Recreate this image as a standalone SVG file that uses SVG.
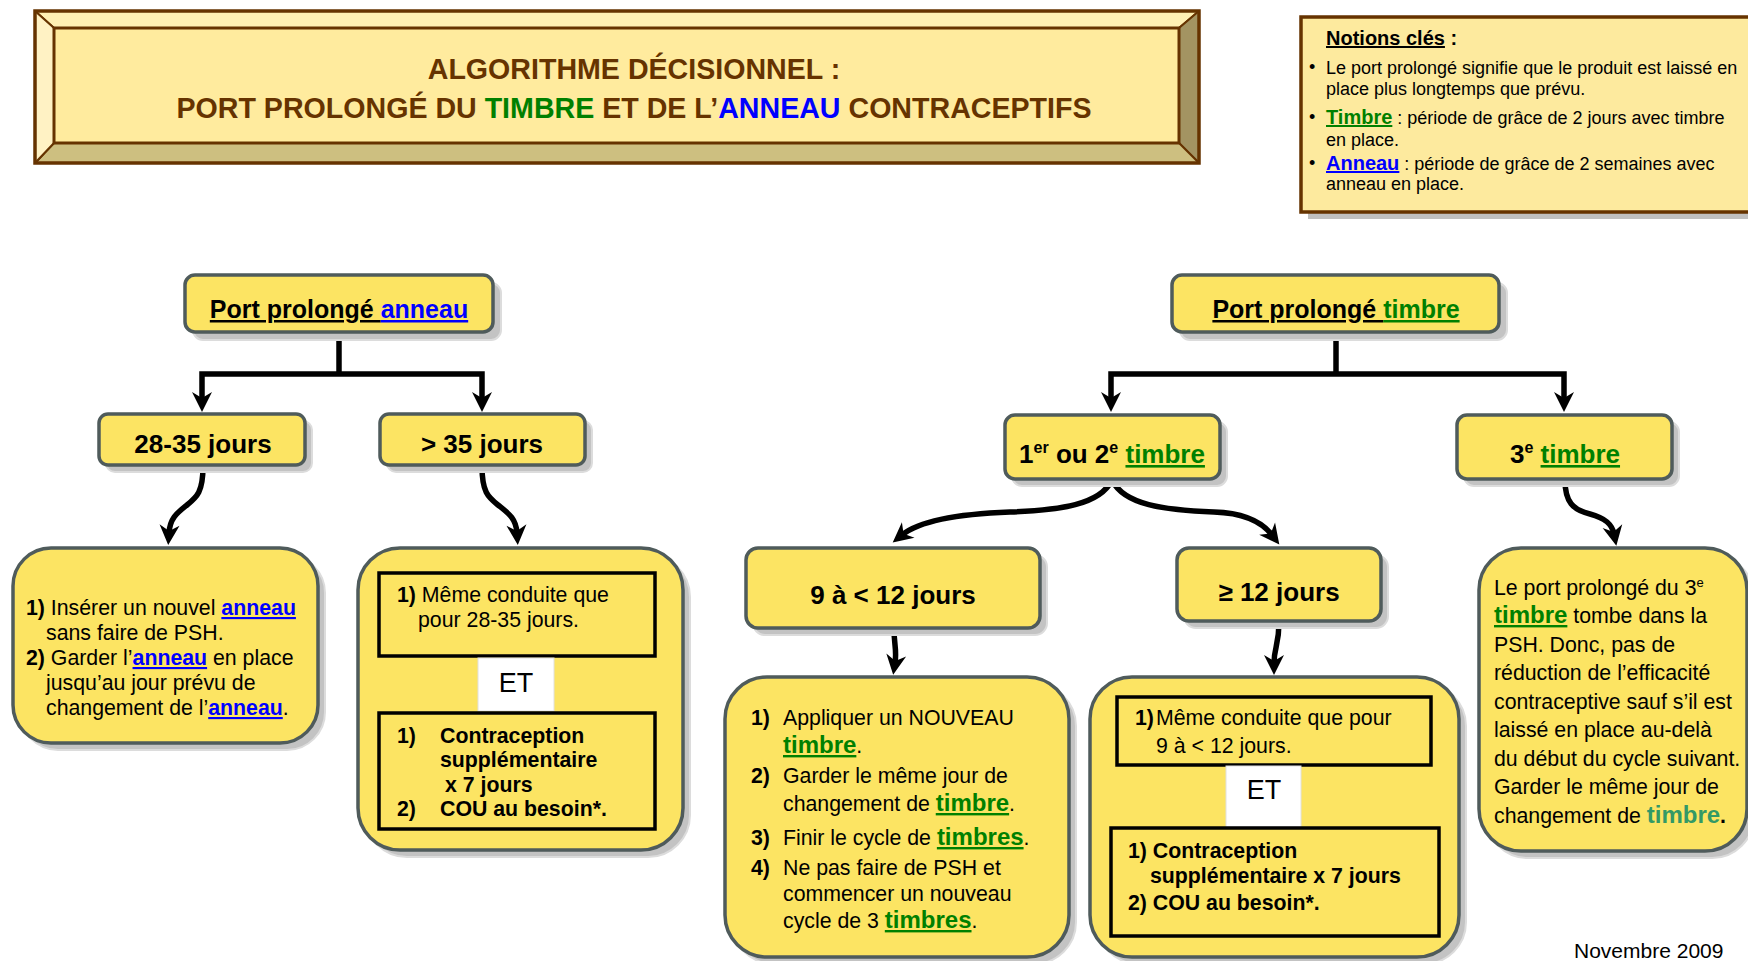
<svg xmlns="http://www.w3.org/2000/svg" width="1748" height="961" viewBox="0 0 1748 961">
<style>
text{font-family:"Liberation Sans",Arial,Helvetica,sans-serif;fill:#000}
.box{fill:#FCE463;stroke:#4F5B5B;stroke-width:3.5}
.sh{fill:#C3C3C3;stroke:#DCDCDC;stroke-width:2}
.inner{fill:none;stroke:#000;stroke-width:3.5}
.et{fill:#FFFFFF;stroke:#E0E0E0;stroke-width:1}
.h{font-size:26px;font-weight:bold;text-anchor:middle}
.h25{font-size:25px;font-weight:bold;text-anchor:middle}
.body{font-size:21.3px}
.bd{font-weight:bold}
.u{text-decoration:underline}
.g{fill:#008000;font-weight:bold;text-decoration:underline}
.bl{fill:#0000FF;font-weight:bold;text-decoration:underline}
.big{font-size:24px}
.title{font-size:28.6px;font-weight:bold;fill:#663300;text-anchor:middle}
.note{font-size:18px}
.conn path{fill:none;stroke:#000;stroke-width:5.5;stroke-linejoin:miter}
.conn path.a{marker-end:url(#ah)}
.bev{stroke:#663300;stroke-width:2;stroke-linejoin:round}
</style>
<defs>
<marker id="ah" markerUnits="userSpaceOnUse" viewBox="-2 -12 26 24" markerWidth="26" markerHeight="24" refX="8" refY="0" orient="auto">
<path d="M0,-10 L20,0 L0,10 L6,0 Z" fill="#000"/>
</marker>
</defs>
<rect width="1748" height="961" fill="#FFFFFF"/>

<g id="title">
<polygon class="bev" points="35,11 1199,11 1179,28 54,28" fill="#FFF0B3"/>
<polygon class="bev" points="1199,11 1199,163 1179,143 1179,28" fill="#A39462"/>
<polygon class="bev" points="35,163 1199,163 1179,143 54,143" fill="#CDBF80"/>
<polygon class="bev" points="35,11 35,163 54,143 54,28" fill="#FFF2C4"/>
<rect x="54" y="28" width="1125" height="115" fill="#FFEB9E" stroke="#663300" stroke-width="3"/>
<rect x="35" y="11" width="1164" height="152" fill="none" stroke="#663300" stroke-width="3.5"/>
<text class="title" x="634" y="79">ALGORITHME DÉCISIONNEL :</text>
<text class="title" x="634" y="118">PORT PROLONGÉ DU <tspan fill="#008000">TIMBRE</tspan> ET DE L’<tspan fill="#0000FF">ANNEAU</tspan> CONTRACEPTIFS</text>
</g>

<g id="notions">
<rect x="1308" y="24" width="460" height="195" fill="#C0C0C0"/>
<rect x="1301" y="17" width="460" height="195" fill="#FDEA9E" stroke="#663300" stroke-width="3.5"/>
<text x="1326" y="45" font-size="20" font-weight="bold"><tspan class="u">Notions clés</tspan> :</text>
<text class="note" x="1309" y="73">•</text>
<text class="note" x="1326" y="74">Le port prolongé signifie que le produit est laissé en</text>
<text class="note" x="1326" y="95">place plus longtemps que prévu.</text>
<text class="note" x="1309" y="123">•</text>
<text class="note" x="1326" y="124"><tspan class="g" font-size="20">Timbre</tspan> : période de grâce de 2 jours avec timbre</text>
<text class="note" x="1326" y="146">en place.</text>
<text class="note" x="1309" y="169">•</text>
<text class="note" x="1326" y="170"><tspan class="bl" font-size="20">Anneau</tspan> : période de grâce de 2 semaines avec</text>
<text class="note" x="1326" y="190">anneau en place.</text>
</g>

<g class="conn" id="connectors">
<path d="M339,332 V374"/>
<path class="a" d="M339,374 H202 V400"/>
<path class="a" d="M339,374 H482 V400"/>
<path d="M1336,332 V374"/>
<path class="a" d="M1336,374 H1111 V400"/>
<path class="a" d="M1336,374 H1564 V400"/>
<path class="a" d="M203,466 C203,492 197,497 187,505 C177,513 170,518 169,533"/>
<path class="a" d="M482,466 C482,492 488,497 498,505 C508,513 516,518 517,533"/>
<path class="a" d="M1112,480 C1100,505 1060,510 1010,512 C955,514 918,522 902,535"/>
<path class="a" d="M1112,480 C1124,505 1164,510 1214,512 C1245,513 1262,522 1272,535"/>
<path class="a" d="M1565,480 C1565,502 1573,510 1590,514 C1605,518 1612,524 1614,534"/>
<path class="a" d="M894,629 C894,645 897,650 895,663"/>
<path class="a" d="M1279,622 C1279,645 1274,648 1274,663"/>
</g>

<g id="n-anneau">
<rect class="sh" x="193" y="283" width="308" height="57" rx="10"/>
<rect class="box" x="185" y="275" width="308" height="57" rx="10"/>
<text class="h25" x="339" y="318"><tspan class="u">Port prolongé </tspan><tspan class="bl">anneau</tspan></text>
</g>

<g id="n-28-35">
<rect class="sh" x="106" y="421" width="206" height="51" rx="9"/>
<rect class="box" x="99" y="414" width="206" height="51" rx="9"/>
<text class="h" x="203" y="453">28-35 jours</text>
</g>

<g id="n-35">
<rect class="sh" x="387" y="421" width="205" height="51" rx="9"/>
<rect class="box" x="380" y="414" width="205" height="51" rx="9"/>
<text class="h" x="482" y="453">&gt; 35 jours</text>
</g>

<g id="n-r2835">
<rect class="sh" x="20" y="555" width="305" height="195" rx="38"/>
<rect class="box" x="13" y="548" width="305" height="195" rx="38"/>
<text class="body" x="26" y="615"><tspan class="bd">1)</tspan> Insérer un nouvel <tspan class="bl">anneau</tspan></text>
<text class="body" x="46" y="640">sans faire de PSH.</text>
<text class="body" x="26" y="665"><tspan class="bd">2)</tspan> Garder l’<tspan class="bl">anneau</tspan> en place</text>
<text class="body" x="46" y="690">jusqu’au jour prévu de</text>
<text class="body" x="46" y="715">changement de l’<tspan class="bl">anneau</tspan>.</text>
</g>

<g id="n-r35">
<rect class="sh" x="365" y="555" width="325" height="302" rx="42"/>
<rect class="box" x="358" y="548" width="325" height="302" rx="42"/>
<rect class="inner" x="379" y="573" width="276" height="83"/>
<text class="body" x="397" y="602"><tspan class="bd">1)</tspan> Même conduite que</text>
<text class="body" x="418" y="627">pour 28-35 jours.</text>
<rect class="et" x="478" y="658" width="76" height="53"/>
<text x="516" y="692" font-size="27" text-anchor="middle">ET</text>
<rect class="inner" x="379" y="713" width="276" height="116"/>
<text class="body bd" x="397" y="743">1)</text>
<text class="body bd" x="440" y="743">Contraception</text>
<text class="body bd" x="440" y="767">supplémentaire</text>
<text class="body bd" x="445" y="792">x 7 jours</text>
<text class="body bd" x="397" y="816">2)</text>
<text class="body bd" x="440" y="816">COU au besoin*.</text>
</g>

<g id="n-timbre">
<rect class="sh" x="1180" y="283" width="327" height="57" rx="10"/>
<rect class="box" x="1172" y="275" width="327" height="57" rx="10"/>
<text class="h25" x="1336" y="318"><tspan class="u">Port prolongé </tspan><tspan class="g">timbre</tspan></text>
</g>

<g id="n-12">
<rect class="sh" x="1012" y="422" width="215" height="64" rx="10"/>
<rect class="box" x="1005" y="415" width="215" height="64" rx="10"/>
<text class="h" x="1112" y="463">1<tspan font-size="16" dy="-10">er</tspan><tspan dy="10"> ou 2</tspan><tspan font-size="16" dy="-10">e</tspan><tspan dy="10"> </tspan><tspan class="g">timbre</tspan></text>
</g>

<g id="n-3">
<rect class="sh" x="1464" y="422" width="215" height="64" rx="10"/>
<rect class="box" x="1457" y="415" width="215" height="64" rx="10"/>
<text class="h" x="1565" y="463">3<tspan font-size="16" dy="-10">e</tspan><tspan dy="10"> </tspan><tspan class="g">timbre</tspan></text>
</g>

<g id="n-9-12">
<rect class="sh" x="753" y="555" width="294" height="80" rx="12"/>
<rect class="box" x="746" y="548" width="294" height="80" rx="12"/>
<text class="h" x="893" y="604">9 à &lt; 12 jours</text>
</g>

<g id="n-ge12">
<rect class="sh" x="1184" y="555" width="204" height="73" rx="12"/>
<rect class="box" x="1177" y="548" width="204" height="73" rx="12"/>
<text class="h" x="1279" y="601">≥ 12 jours</text>
</g>

<g id="n-r912">
<rect class="sh" x="732" y="684" width="344" height="280" rx="42"/>
<rect class="box" x="725" y="677" width="344" height="280" rx="42"/>
<text class="body bd" x="751" y="725">1)</text>
<text class="body" x="783" y="725">Appliquer un NOUVEAU</text>
<text class="body" x="783" y="753"><tspan class="g big">timbre</tspan>.</text>
<text class="body bd" x="751" y="783">2)</text>
<text class="body" x="783" y="783">Garder le même jour de</text>
<text class="body" x="783" y="811">changement de <tspan class="g big">timbre</tspan>.</text>
<text class="body bd" x="751" y="845">3)</text>
<text class="body" x="783" y="845">Finir le cycle de <tspan class="g big">timbres</tspan>.</text>
<text class="body bd" x="751" y="875">4)</text>
<text class="body" x="783" y="875">Ne pas faire de PSH et</text>
<text class="body" x="783" y="901">commencer un nouveau</text>
<text class="body" x="783" y="928">cycle de 3 <tspan class="g big">timbres</tspan>.</text>
</g>

<g id="n-rge12">
<rect class="sh" x="1097" y="684" width="369" height="280" rx="42"/>
<rect class="box" x="1090" y="677" width="369" height="280" rx="42"/>
<rect class="inner" x="1117" y="697" width="314" height="68"/>
<text class="body bd" x="1135" y="725">1)</text>
<text class="body" x="1156" y="725">Même conduite que pour</text>
<text class="body" x="1156" y="753">9 à &lt; 12 jours.</text>
<rect class="et" x="1226" y="766" width="75" height="61"/>
<text x="1264" y="799" font-size="27" text-anchor="middle">ET</text>
<rect class="inner" x="1111" y="828" width="328" height="108"/>
<text class="body bd" x="1128" y="858">1) Contraception</text>
<text class="body bd" x="1150" y="883">supplémentaire x 7 jours</text>
<text class="body bd" x="1128" y="910">2) COU au besoin*.</text>
</g>

<g id="n-r3">
<rect class="sh" x="1486" y="555" width="268" height="303" rx="42"/>
<rect class="box" x="1479" y="548" width="268" height="303" rx="42"/>
<text class="body" x="1494" y="595">Le port prolongé du 3<tspan font-size="13" dy="-8">e</tspan></text>
<text class="body" x="1494" y="623"><tspan class="g big">timbre</tspan> tombe dans la</text>
<text class="body" x="1494" y="652">PSH. Donc, pas de</text>
<text class="body" x="1494" y="680">réduction de l’efficacité</text>
<text class="body" x="1494" y="709">contraceptive sauf s’il est</text>
<text class="body" x="1494" y="737">laissé en place au-delà</text>
<text class="body" x="1494" y="766">du début du cycle suivant.</text>
<text class="body" x="1494" y="794">Garder le même jour de</text>
<text class="body" x="1494" y="823">changement de <tspan class="big bd" fill="#339966">timbre</tspan><tspan class="bd">.</tspan></text>
</g>

<text x="1574" y="958" font-size="21">Novembre 2009</text>
</svg>
